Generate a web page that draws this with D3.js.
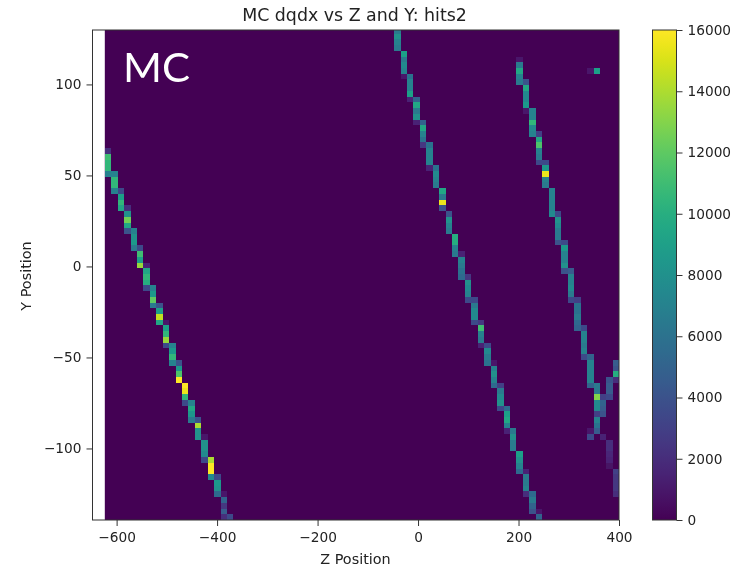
<!DOCTYPE html>
<html lang="en">
<head>
    <meta charset="UTF-8">
    <title>MC dqdx vs Z and Y: hits2</title>
    <script src="https://d3js.org/d3.v7.min.js"></script>
    <style>
        html, body { margin: 0; padding: 0; background: #fff; }
        svg { display: block; filter: blur(0.35px); }
        text { font-family: "DejaVu Sans", sans-serif; fill: #222; }
        .tick text { font-size: 13.7px; }
        .tick line, .domain { stroke: #333; }
    </style>
</head>
<body>
    <svg width="736" height="568"></svg>

    <script>
        // Tick labels
        const zTicks = [-600, -400, -200, 0, 200, 400];
        const yTicks = [-100, -50, 0, 50, 100];
        const colorTicks = [0, 2000, 4000, 6000, 8000, 10000, 12000, 14000, 16000];

        // Histogram binning
        const zBinStart = -623.5, zBinWidth = 12.8, zBinCount = 80;
        const yBinTop = 131, yBinHeight = 3.143;

        // Each run is [z bin, first y bin counted from the top, dqdx values going down]
        const trackA = [
            [0, 21, [2000, 11000, 10500, 10500, 7000]],
            [1, 25, [7000, 10500, 10500, 7000]],
            [2, 28, [3500, 9000, 10500, 9500]],
            [3, 31, [2000, 8000, 12500, 9500, 4000]],
            [4, 35, [7000, 8000, 8500, 6500]],
            [5, 38, [3500, 11000, 9000, 13500]],
            [6, 41, [1500, 9500, 10500, 10000, 3500]],
            [7, 45, [7000, 8500, 12000, 6500]],
            [8, 48, [4000, 9000, 14500, 9500]],
            [9, 51, [1000, 9000, 10500, 13500, 3500]],
            [10, 55, [7000, 8500, 10500, 7000]],
            [11, 58, [4000, 8500, 11500, 16000]],
            [12, 62, [16000, 15500, 10500, 3500]],
            [13, 65, [7000, 9500, 8500, 6500]],
            [14, 68, [4000, 14000, 8000, 8000]],
            [15, 71, [1000, 8000, 8000, 7500, 3500]],
            [16, 75, [14000, 16000, 16000, 7500]],
            [17, 78, [3500, 8500, 8000, 5500]],
            [18, 81, [1000, 5000, 2500, 4500, 2000]],
            [19, 85, [3500]]
        ];
        const trackB = [
            [45, 0, [6500, 8000, 7000, 6500]],
            [46, 4, [9000, 6500, 7500, 7000, 1000]],
            [47, 8, [6000, 7000, 7000, 9000, 1500]],
            [48, 12, [5000, 9500, 6500, 8000, 1500]],
            [49, 16, [5000, 9500, 7000, 6000, 2500]],
            [50, 20, [6000, 7000, 7000, 7000, 1500]],
            [51, 24, [6000, 7500, 7000, 6500]],
            [52, 28, [9500, 6500, 15500, 4000]],
            [53, 32, [4000, 8000, 7000, 6500]],
            [54, 36, [10000, 10000, 7000, 6500]],
            [55, 39, [1500, 7000, 6500, 6000, 5500]],
            [56, 43, [2500, 8000, 7500, 7000, 3500]],
            [57, 47, [3500, 6500, 7500, 7500, 3500]],
            [58, 51, [2500, 11000, 7000, 6500, 1500]],
            [59, 55, [3500, 7500, 6500, 6000]],
            [60, 58, [1000, 7000, 8000, 7000, 5500]],
            [61, 62, [3000, 6500, 7500, 8000, 3500]],
            [62, 66, [5500, 9000, 9500, 7000, 1500]],
            [63, 70, [6500, 8000, 6500, 6500]],
            [64, 74, [9000, 8000, 7000, 5500]],
            [65, 77, [1500, 6500, 6500, 7000, 2000]],
            [66, 81, [5500, 6500, 5000, 4000]],
            [67, 84, [1000, 5000]]
        ];
        const trackC = [
            [64, 5, [1000, 6500, 9500, 7000, 6500]],
            [65, 9, [4000, 9500, 7500, 7500, 8500, 1000]],
            [66, 14, [7000, 7000, 10500, 7500, 7000]],
            [67, 18, [3000, 9500, 11500, 7000, 6500, 3500]],
            [68, 23, [3500, 8500, 15500, 7000, 6500]],
            [69, 28, [7000, 7000, 7000, 7000, 7500]],
            [70, 32, [3500, 8000, 7500, 6500, 6500, 4000]],
            [71, 37, [3500, 8500, 7000, 7000, 8000, 4000]],
            [72, 42, [4500, 7000, 7000, 7500, 6500, 3500]],
            [73, 47, [3000, 6000, 6000, 6500, 5500, 5000]],
            [74, 52, [3500, 7000, 7000, 6500, 7000, 3500]],
            [75, 57, [5000, 7000, 7000, 7000, 7000, 5000]],
            [76, 62, [6500, 6500, 13000, 7500, 7500, 3000, 7000, 6000, 4500]]
        ];
        // Stray hits near the right edge and the lone one at the top
        const strayHits = [
            [75, 7, [1000]],
            [76, 7, [9000]],
            [75, 70, [1000, 3500]],
            [77, 64, [3000, 5000, 4500, 4000]],
            [77, 71, [1500]],
            [78, 61, [4000, 4500, 4500, 3500]],
            [78, 72, [2000, 2000, 1800, 1500, 800]],
            [79, 58, [4500, 4000, 10000, 2000]],
            [79, 77, [3000, 2500, 2500, 2500, 2000]]
        ];

        const svg = d3.select("svg");
        const plotLeft = 92.5, plotRight = 619, plotTop = 30, plotBottom = 520;

        const x = d3.scaleLinear().domain([-648, 400]).range([plotLeft, plotRight]);
        const y = d3.scaleLinear().domain([-139.3, 129.9]).range([plotBottom, plotTop]);
        const color = d3.scaleSequential(d3.interpolateViridis).domain([0, 16000]);

        const defs = svg.append("defs");
        defs.append("clipPath").attr("id", "plot-clip")
            .append("rect")
            .attr("x", plotLeft).attr("y", plotTop)
            .attr("width", plotRight - plotLeft).attr("height", plotBottom - plotTop);
        defs.append("filter").attr("id", "soften")
            .attr("x", "-5%").attr("y", "-5%").attr("width", "110%").attr("height", "110%")
            .append("feGaussianBlur").attr("stdDeviation", 0.7);

        // Flatten the runs into single cells
        const cells = [...trackA, ...trackB, ...trackC, ...strayHits].flatMap(([col, row, values]) =>
            values.map((value, i) => ({ col, row: row + i, value })));

        const plot = svg.append("g").attr("clip-path", "url(#plot-clip)");

        // Empty bins of the histogram (left of the first bin stays white)
        plot.append("rect")
            .attr("x", x(zBinStart))
            .attr("y", plotTop)
            .attr("width", x(zBinStart + zBinCount * zBinWidth) - x(zBinStart))
            .attr("height", plotBottom - plotTop)
            .attr("fill", color(0));

        plot.append("g").attr("filter", "url(#soften)")
            .attr("shape-rendering", "crispEdges")
            .selectAll("rect")
            .data(cells)
            .join("rect")
            .attr("x", d => x(zBinStart + d.col * zBinWidth))
            .attr("y", d => y(yBinTop - d.row * yBinHeight))
            .attr("width", x(zBinWidth) - x(0))
            .attr("height", y(0) - y(yBinHeight))
            .attr("fill", d => color(d.value));

        // Frame and axes
        svg.append("rect")
            .attr("x", plotLeft).attr("y", plotTop)
            .attr("width", plotRight - plotLeft).attr("height", plotBottom - plotTop)
            .attr("fill", "none").attr("stroke", "#333");

        const xAxis = svg.append("g").attr("transform", `translate(0,${plotBottom})`)
            .call(d3.axisBottom(x).tickValues(zTicks).tickSize(6).tickPadding(6).tickFormat(d3.format("d")));
        const yAxis = svg.append("g").attr("transform", `translate(${plotLeft},0)`)
            .call(d3.axisLeft(y).tickValues(yTicks).tickSize(6).tickPadding(5).tickFormat(d3.format("d")));
        xAxis.select(".domain").remove();
        yAxis.select(".domain").remove();
        xAxis.attr("font-family", null).attr("font-size", null);
        yAxis.attr("font-family", null).attr("font-size", null);

        // Colorbar, built from the same colour scale
        const barLeft = 652.5, barWidth = 24;
        const barY = d3.scaleLinear().domain([0, 16000]).range([plotBottom, plotTop]);
        const barGradient = defs.append("linearGradient").attr("id", "bar-gradient")
            .attr("x1", 0).attr("y1", 1).attr("x2", 0).attr("y2", 0);
        barGradient.selectAll("stop")
            .data(d3.range(0, 16001, 500))
            .join("stop")
            .attr("offset", d => d / 16000)
            .attr("stop-color", d => color(d));
        svg.append("rect")
            .attr("x", barLeft).attr("y", plotTop)
            .attr("width", barWidth).attr("height", plotBottom - plotTop)
            .attr("fill", "url(#bar-gradient)")
            .attr("stroke", "#333");
        const barAxis = svg.append("g").attr("transform", `translate(${barLeft + barWidth},0)`)
            .call(d3.axisRight(barY).tickValues(colorTicks).tickSize(6).tickPadding(5).tickFormat(d3.format("d")));
        barAxis.select(".domain").remove();
        barAxis.attr("font-family", null).attr("font-size", null);

        // Titles
        svg.append("text")
            .attr("x", 354.5).attr("y", 21)
            .attr("text-anchor", "middle")
            .style("font-size", "17.4px")
            .text("MC dqdx vs Z and Y: hits2");
        svg.append("text")
            .attr("x", 355.5).attr("y", 564)
            .attr("text-anchor", "middle")
            .style("font-size", "14.4px")
            .text("Z Position");
        svg.append("text")
            .attr("transform", "translate(30.5,276) rotate(-90)")
            .attr("text-anchor", "middle")
            .style("font-size", "14.4px")
            .text("Y Position");

        // Label pasted over the plot
        svg.append("text")
            .attr("x", 123).attr("y", 82)
            .attr("textLength", 67)
            .attr("lengthAdjust", "spacingAndGlyphs")
            .style("font-family", "Lato, sans-serif")
            .style("font-size", "41px")
            .style("fill", "#fff")
            .text("MC");
    </script>
</body>
</html>
